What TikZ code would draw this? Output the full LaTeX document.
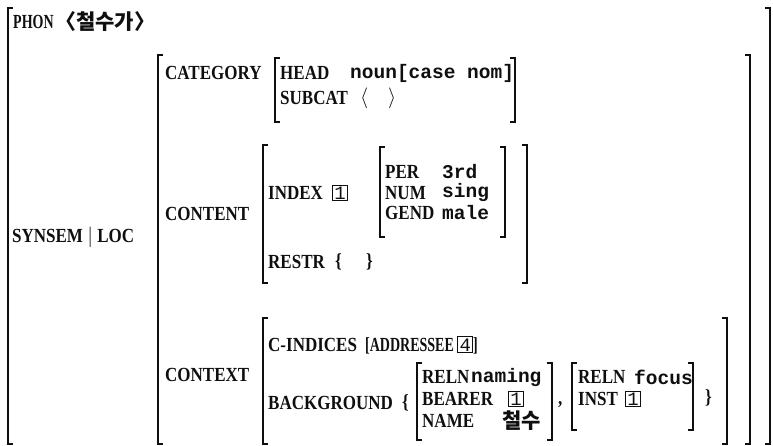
\documentclass[tikz,border=0pt]{standalone}
\usepackage{fontspec}
\setmainfont{Liberation Serif}[FakeStretch=0.85]
\newfontfamily\narrowfont{Liberation Serif}[FakeStretch=0.7]
\newfontfamily\valfont{Liberation Mono}
\newfontfamily\korfont{Noto Sans CJK KR}
\usetikzlibrary{positioning}
\definecolor{ink}{RGB}{15,15,15}
\newcommand{\boxnum}[1]{{\setlength{\fboxsep}{1.2pt}\setlength{\fboxrule}{1pt}\fbox{\valfont\mdseries\fontsize{19}{20}\selectfont #1}}}
% square brackets round a matrix: left x, top y, right x, bottom y
\newcommand{\avmbr}[4]{%
  \draw[brack] (#1+5,#2) -- (#1,#2) -- (#1,#4) -- (#1+5,#4);
  \draw[brack] (#3-5,#2) -- (#3,#2) -- (#3,#4) -- (#3-5,#4);}
\tikzset{
  brack/.style={draw=ink,line width=1.7pt,line join=miter},
  feat/.style={anchor=west,inner sep=0pt,text=ink,
               font=\bfseries\fontsize{20}{22}\selectfont},
  narrow/.style={feat,font=\narrowfont\bfseries\fontsize{20}{22}\selectfont},
  val/.style={feat,font=\valfont\bfseries\fontsize{19.5}{21}\selectfont},
  kor/.style={feat,font=\korfont\bfseries\fontsize{21}{23}\selectfont}
}
\begin{document}
\begin{tikzpicture}[x=1pt,y=-1pt]
  \useasboundingbox (0,0) rectangle (773,446);
  % brackets
  \avmbr{8}{8}{770}{444}
  \avmbr{158}{55}{750}{444}
  \avmbr{275}{58}{515}{122}
  \avmbr{263}{145}{527}{283}
  \avmbr{380}{147}{505}{237}
  \avmbr{263}{318}{727}{444}
  \avmbr{417}{363}{552}{440}
  \avmbr{572}{363}{693}{430}
  % top level
  \node[narrow] (phon) at (13,22) {PHON};
  \node[kor] (phonv) at (55,22) {〈철수가〉};
  \node[feat] (synsem) at (12,237) {SYNSEM $|$ LOC};
  % category
  \node[feat] (cat) at (165,73) {CATEGORY};
  \node[feat] (head) at (280,73) {HEAD};
  \node[val] (headv) at (350,73) {noun[case nom]};
  \node[feat] (subcat) at (280,98) {SUBCAT};
  \node[feat] (subcatv) at (360,98) {$\langle\quad\rangle$};
  % content
  \node[feat] (cont) at (165,214) {CONTENT};
  \node[feat] (index) at (268,193) {INDEX};
  \node[feat] (idxtag) at (332,193) {\boxnum{1}};
  \node[feat] (per) at (385,172) {PER};
  \node[val] (perv) at (442,172) {3rd};
  \node[feat] (num) at (385,193) {NUM};
  \node[val] (numv) at (442,193) {sing};
  \node[feat] (gend) at (385,213) {GEND};
  \node[val] (gendv) at (442,213) {male};
  \node[feat] (restr) at (268,262) {RESTR};
  \node[feat] (restrv) at (335,262) {\{\quad\ \}};
  % context
  \node[feat] (ctx) at (165,375) {CONTEXT};
  \node[feat] (cind) at (268,345) {C-INDICES};
  \node[narrow] (cindv) at (365,345) {[ADDRESSEE \boxnum{4}]};
  \node[feat] (bg) at (268,403) {BACKGROUND};
  \node[feat] (bgopen) at (402,403) {\{};
  \node[feat] (relna) at (422,377) {RELN};
  \node[val] (relnav) at (471,377) {naming};
  \node[feat] (bearer) at (422,399) {BEARER};
  \node[feat] (bearertag) at (508,399) {\boxnum{1}};
  \node[feat] (name) at (422,421) {NAME};
  \node[kor] (namev) at (502,421) {철수};
  \node[feat] (comma) at (558,405) {,};
  \node[feat] (relnb) at (578,377) {RELN};
  \node[val] (relnbv) at (634,377) {focus};
  \node[feat] (inst) at (578,399) {INST};
  \node[feat] (insttag) at (625,399) {\boxnum{1}};
  \node[feat] (bgclose) at (705,398) {\}};
\end{tikzpicture}
\end{document}
